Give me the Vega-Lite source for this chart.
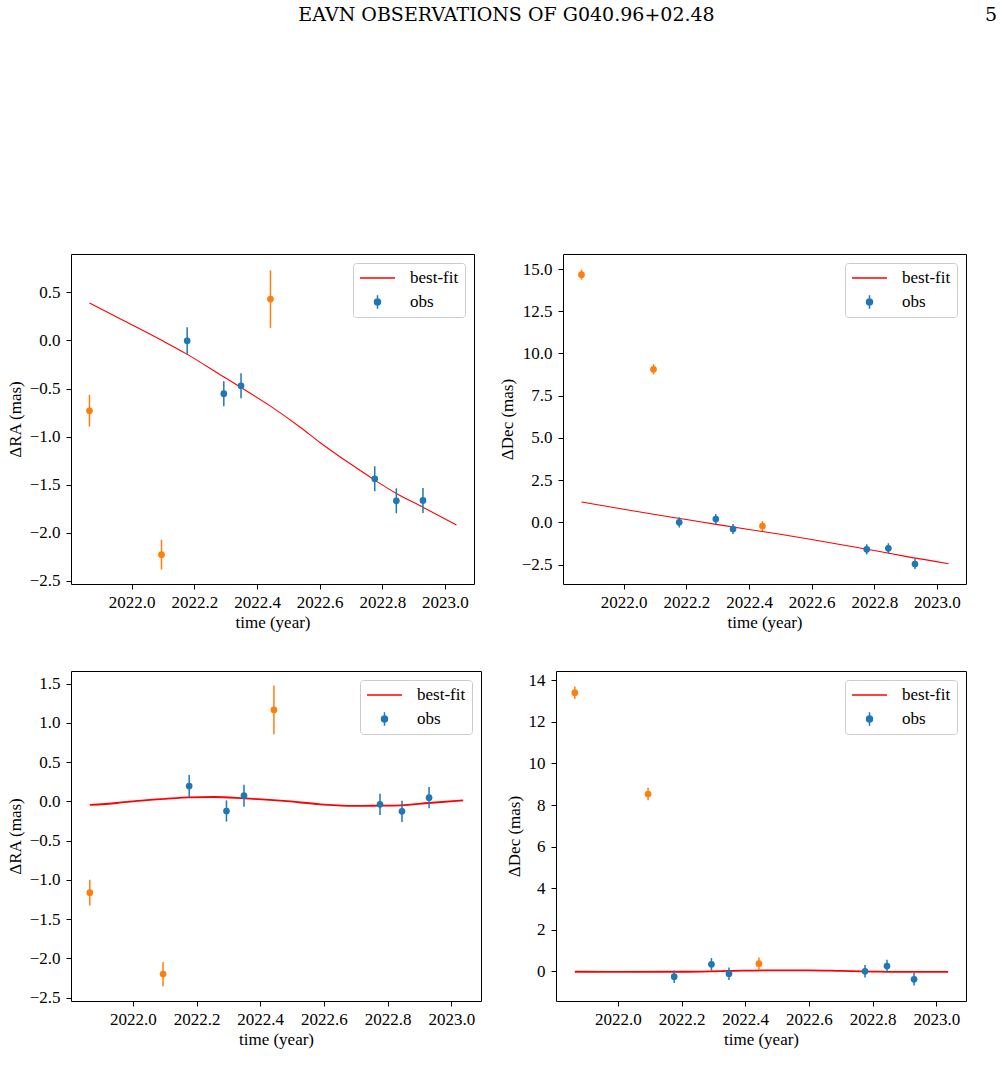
{
  "$schema": "https://vega.github.io/schema/vega-lite/v6.json",
  "background": "white",
  "padding": {"left": 5, "top": 5, "right": 5, "bottom": 5},
  "datasets": {
    "p1": [
      {"t": 2021.865, "v": -0.731, "e": 0.165, "grp": "out"},
      {"t": 2022.095, "v": -2.229, "e": 0.155, "grp": "out"},
      {"t": 2022.177, "v": -0.003, "e": 0.14, "grp": "obs"},
      {"t": 2022.294, "v": -0.554, "e": 0.13, "grp": "obs"},
      {"t": 2022.349, "v": -0.471, "e": 0.13, "grp": "obs"},
      {"t": 2022.443, "v": 0.431, "e": 0.30, "grp": "out"},
      {"t": 2022.776, "v": -1.439, "e": 0.13, "grp": "obs"},
      {"t": 2022.845, "v": -1.668, "e": 0.13, "grp": "obs"},
      {"t": 2022.930, "v": -1.664, "e": 0.13, "grp": "obs"},
      {"t": 2021.865, "v": 0.389, "grp": "best-fit"},
      {"t": 2022.0, "v": 0.164, "grp": "best-fit"},
      {"t": 2022.094, "v": 0.004, "grp": "best-fit"},
      {"t": 2022.176, "v": -0.142, "grp": "best-fit"},
      {"t": 2022.293, "v": -0.378, "grp": "best-fit"},
      {"t": 2022.349, "v": -0.489, "grp": "best-fit"},
      {"t": 2022.443, "v": -0.683, "grp": "best-fit"},
      {"t": 2022.539, "v": -0.905, "grp": "best-fit"},
      {"t": 2022.601, "v": -1.061, "grp": "best-fit"},
      {"t": 2022.699, "v": -1.286, "grp": "best-fit"},
      {"t": 2022.776, "v": -1.453, "grp": "best-fit"},
      {"t": 2022.845, "v": -1.592, "grp": "best-fit"},
      {"t": 2022.931, "v": -1.737, "grp": "best-fit"},
      {"t": 2023.037, "v": -1.921, "grp": "best-fit"}
    ],
    "p2": [
      {"t": 2021.865, "v": 14.665, "e": 0.3, "grp": "out"},
      {"t": 2022.095, "v": 9.062, "e": 0.3, "grp": "out"},
      {"t": 2022.177, "v": 0.007, "e": 0.3, "grp": "obs"},
      {"t": 2022.294, "v": 0.204, "e": 0.3, "grp": "obs"},
      {"t": 2022.349, "v": -0.388, "e": 0.3, "grp": "obs"},
      {"t": 2022.443, "v": -0.21, "e": 0.3, "grp": "out"},
      {"t": 2022.776, "v": -1.591, "e": 0.3, "grp": "obs"},
      {"t": 2022.845, "v": -1.532, "e": 0.3, "grp": "obs"},
      {"t": 2022.930, "v": -2.459, "e": 0.3, "grp": "obs"},
      {"t": 2021.865, "v": 1.21, "grp": "best-fit"},
      {"t": 2022.0, "v": 0.78, "grp": "best-fit"},
      {"t": 2022.1, "v": 0.47, "grp": "best-fit"},
      {"t": 2022.2, "v": 0.17, "grp": "best-fit"},
      {"t": 2022.3, "v": -0.13, "grp": "best-fit"},
      {"t": 2022.4, "v": -0.42, "grp": "best-fit"},
      {"t": 2022.5, "v": -0.70, "grp": "best-fit"},
      {"t": 2022.6, "v": -1.01, "grp": "best-fit"},
      {"t": 2022.7, "v": -1.33, "grp": "best-fit"},
      {"t": 2022.8, "v": -1.66, "grp": "best-fit"},
      {"t": 2022.9, "v": -2.01, "grp": "best-fit"},
      {"t": 2023.037, "v": -2.44, "grp": "best-fit"}
    ],
    "p3": [
      {"t": 2021.865, "v": -1.162, "e": 0.165, "grp": "out"},
      {"t": 2022.095, "v": -2.199, "e": 0.155, "grp": "out"},
      {"t": 2022.177, "v": 0.196, "e": 0.14, "grp": "obs"},
      {"t": 2022.294, "v": -0.122, "e": 0.135, "grp": "obs"},
      {"t": 2022.349, "v": 0.073, "e": 0.14, "grp": "obs"},
      {"t": 2022.443, "v": 1.165, "e": 0.31, "grp": "out"},
      {"t": 2022.776, "v": -0.037, "e": 0.135, "grp": "obs"},
      {"t": 2022.845, "v": -0.126, "e": 0.135, "grp": "obs"},
      {"t": 2022.930, "v": 0.048, "e": 0.135, "grp": "obs"},
      {"t": 2021.865, "v": -0.045, "grp": "best-fit"},
      {"t": 2021.95, "v": -0.02, "grp": "best-fit"},
      {"t": 2022.014, "v": 0.006, "grp": "best-fit"},
      {"t": 2022.1, "v": 0.032, "grp": "best-fit"},
      {"t": 2022.176, "v": 0.052, "grp": "best-fit"},
      {"t": 2022.255, "v": 0.056, "grp": "best-fit"},
      {"t": 2022.348, "v": 0.039, "grp": "best-fit"},
      {"t": 2022.474, "v": 0.006, "grp": "best-fit"},
      {"t": 2022.589, "v": -0.037, "grp": "best-fit"},
      {"t": 2022.693, "v": -0.058, "grp": "best-fit"},
      {"t": 2022.777, "v": -0.054, "grp": "best-fit"},
      {"t": 2022.84, "v": -0.05, "grp": "best-fit"},
      {"t": 2022.929, "v": -0.02, "grp": "best-fit"},
      {"t": 2023.037, "v": 0.014, "grp": "best-fit"}
    ],
    "p4": [
      {"t": 2021.865, "v": 13.407, "e": 0.3, "grp": "out"},
      {"t": 2022.095, "v": 8.532, "e": 0.3, "grp": "out"},
      {"t": 2022.177, "v": -0.256, "e": 0.3, "grp": "obs"},
      {"t": 2022.294, "v": 0.337, "e": 0.3, "grp": "obs"},
      {"t": 2022.349, "v": -0.112, "e": 0.3, "grp": "obs"},
      {"t": 2022.443, "v": 0.37, "e": 0.3, "grp": "out"},
      {"t": 2022.776, "v": 0.0, "e": 0.3, "grp": "obs"},
      {"t": 2022.845, "v": 0.257, "e": 0.3, "grp": "obs"},
      {"t": 2022.930, "v": -0.384, "e": 0.3, "grp": "obs"},
      {"t": 2021.865, "v": -0.02, "grp": "best-fit"},
      {"t": 2022.0, "v": -0.03, "grp": "best-fit"},
      {"t": 2022.2, "v": -0.02, "grp": "best-fit"},
      {"t": 2022.35, "v": 0.02, "grp": "best-fit"},
      {"t": 2022.5, "v": 0.05, "grp": "best-fit"},
      {"t": 2022.6, "v": 0.05, "grp": "best-fit"},
      {"t": 2022.7, "v": 0.02, "grp": "best-fit"},
      {"t": 2022.8, "v": -0.01, "grp": "best-fit"},
      {"t": 2022.9, "v": -0.03, "grp": "best-fit"},
      {"t": 2023.037, "v": -0.03, "grp": "best-fit"}
    ]
  },
  "vconcat": [
    {
      "hconcat": [
        {
          "width": 403, "height": 330,
          "title": {"text": "EAVN OBSERVATIONS OF G040.96+02.48", "anchor": "middle", "dx": 234, "offset": 214, "baseline": "alphabetic", "font": "DejaVu Serif", "fontSize": 19, "fontWeight": "normal", "color": "black"},
          "data": {"name": "p1"},
          "encoding": {
            "x": {"field": "t", "type": "quantitative", "scale": {"domain": [2021.806, 2023.093], "nice": false, "zero": false}, "axis": {"values": [2022.0, 2022.2, 2022.4, 2022.6, 2022.8, 2023.0], "format": ".1f", "title": "time (year)"}},
            "y": {"field": "v", "type": "quantitative", "scale": {"domain": [-2.534, 0.9], "nice": false, "zero": false}, "axis": {"values": [-2.5, -2.0, -1.5, -1.0, -0.5, 0.0, 0.5], "format": ".1f", "title": "ΔRA (mas)"}}
          },
          "layer": [
            {"transform": [{"filter": "datum.grp === 'best-fit'"}], "mark": {"type": "line", "interpolate": "monotone", "strokeWidth": 1.1},
             "encoding": {"color": {"field": "grp", "type": "nominal", "scale": {"domain": ["best-fit", "obs"], "range": ["red", "#1f77b4"]},
               "legend": {"title": null, "symbolOffset": 0, "labelOffset": 14, "encode": {"symbols": {"update": {
                 "shape": {"signal": "datum.value === 'best-fit' ? 'M-1,0L1,0' : 'M-0.17,0A0.17,0.17,0,1,0,0.17,0A0.17,0.17,0,1,0,-0.17,0ZM0,-0.38L0,0.38'"},
                 "size": {"value": 1225},
                 "fill": {"signal": "datum.value === 'best-fit' ? 'transparent' : '#1f77b4'"},
                 "stroke": {"signal": "datum.value === 'best-fit' ? 'red' : '#1f77b4'"},
                 "strokeWidth": {"value": 1.5},
                 "opacity": {"value": 1}}}}}}}},
            {"transform": [{"filter": "datum.grp === 'obs'"}], "mark": {"type": "errorbar", "color": "#1f77b4", "thickness": 1.5}, "encoding": {"yError": {"field": "e"}}},
            {"transform": [{"filter": "datum.grp === 'out'"}], "mark": {"type": "errorbar", "color": "#ff7f0e", "thickness": 1.5}, "encoding": {"yError": {"field": "e"}}},
            {"transform": [{"filter": "datum.grp === 'obs'"}], "mark": {"type": "circle", "size": 45, "opacity": 1}, "encoding": {"color": {"field": "grp", "type": "nominal"}}},
            {"transform": [{"filter": "datum.grp === 'out'"}], "mark": {"type": "circle", "size": 45, "opacity": 1, "color": "#ff7f0e"}}
          ]
        },
        {
          "width": 403, "height": 330,
          "title": {"text": "5", "anchor": "end", "dx": 31, "offset": 214, "baseline": "alphabetic", "font": "DejaVu Serif", "fontSize": 19, "fontWeight": "normal", "color": "black"},
          "data": {"name": "p2"},
          "encoding": {
            "x": {"field": "t", "type": "quantitative", "scale": {"domain": [2021.806, 2023.093], "nice": false, "zero": false}, "axis": {"values": [2022.0, 2022.2, 2022.4, 2022.6, 2022.8, 2023.0], "format": ".1f", "title": "time (year)"}},
            "y": {"field": "v", "type": "quantitative", "scale": {"domain": [-3.643, 15.888], "nice": false, "zero": false}, "axis": {"values": [-2.5, 0.0, 2.5, 5.0, 7.5, 10.0, 12.5, 15.0], "format": ".1f", "title": "ΔDec (mas)"}}
          },
          "layer": [
            {"transform": [{"filter": "datum.grp === 'best-fit'"}], "mark": {"type": "line", "interpolate": "monotone", "strokeWidth": 1.1},
             "encoding": {"color": {"field": "grp", "type": "nominal", "scale": {"domain": ["best-fit", "obs"], "range": ["red", "#1f77b4"]},
               "legend": {"title": null, "symbolOffset": 0, "labelOffset": 14, "encode": {"symbols": {"update": {
                 "shape": {"signal": "datum.value === 'best-fit' ? 'M-1,0L1,0' : 'M-0.17,0A0.17,0.17,0,1,0,0.17,0A0.17,0.17,0,1,0,-0.17,0ZM0,-0.38L0,0.38'"},
                 "size": {"value": 1225},
                 "fill": {"signal": "datum.value === 'best-fit' ? 'transparent' : '#1f77b4'"},
                 "stroke": {"signal": "datum.value === 'best-fit' ? 'red' : '#1f77b4'"},
                 "strokeWidth": {"value": 1.5},
                 "opacity": {"value": 1}}}}}}}},
            {"transform": [{"filter": "datum.grp === 'obs'"}], "mark": {"type": "errorbar", "color": "#1f77b4", "thickness": 1.5}, "encoding": {"yError": {"field": "e"}}},
            {"transform": [{"filter": "datum.grp === 'out'"}], "mark": {"type": "errorbar", "color": "#ff7f0e", "thickness": 1.5}, "encoding": {"yError": {"field": "e"}}},
            {"transform": [{"filter": "datum.grp === 'obs'"}], "mark": {"type": "circle", "size": 45, "opacity": 1}, "encoding": {"color": {"field": "grp", "type": "nominal"}}},
            {"transform": [{"filter": "datum.grp === 'out'"}], "mark": {"type": "circle", "size": 45, "opacity": 1, "color": "#ff7f0e"}}
          ]
        }
      ],
      "spacing": 89,
      "bounds": "flush",
      "resolve": {"scale": {"color": "independent"}, "legend": {"color": "independent"}}
    },
    {
      "hconcat": [
        {
          "width": 410, "height": 330,
          "data": {"name": "p3"},
          "encoding": {
            "x": {"field": "t", "type": "quantitative", "scale": {"domain": [2021.806, 2023.093], "nice": false, "zero": false}, "axis": {"values": [2022.0, 2022.2, 2022.4, 2022.6, 2022.8, 2023.0], "format": ".1f", "title": "time (year)"}},
            "y": {"field": "v", "type": "quantitative", "scale": {"domain": [-2.542, 1.661], "nice": false, "zero": false}, "axis": {"values": [-2.5, -2.0, -1.5, -1.0, -0.5, 0.0, 0.5, 1.0, 1.5], "format": ".1f", "title": "ΔRA (mas)"}}
          },
          "layer": [
            {"transform": [{"filter": "datum.grp === 'best-fit'"}], "mark": {"type": "line", "interpolate": "monotone", "strokeWidth": 1.8},
             "encoding": {"color": {"field": "grp", "type": "nominal", "scale": {"domain": ["best-fit", "obs"], "range": ["red", "#1f77b4"]},
               "legend": {"title": null, "symbolOffset": 0, "labelOffset": 14, "encode": {"symbols": {"update": {
                 "shape": {"signal": "datum.value === 'best-fit' ? 'M-1,0L1,0' : 'M-0.17,0A0.17,0.17,0,1,0,0.17,0A0.17,0.17,0,1,0,-0.17,0ZM0,-0.38L0,0.38'"},
                 "size": {"value": 1225},
                 "fill": {"signal": "datum.value === 'best-fit' ? 'transparent' : '#1f77b4'"},
                 "stroke": {"signal": "datum.value === 'best-fit' ? '#ff4d4d' : '#1f77b4'"},
                 "strokeWidth": {"value": 1.5},
                 "opacity": {"value": 1}}}}}}}},
            {"transform": [{"filter": "datum.grp === 'obs'"}], "mark": {"type": "errorbar", "color": "#1f77b4", "thickness": 1.5}, "encoding": {"yError": {"field": "e"}}},
            {"transform": [{"filter": "datum.grp === 'out'"}], "mark": {"type": "errorbar", "color": "#ff7f0e", "thickness": 1.5}, "encoding": {"yError": {"field": "e"}}},
            {"transform": [{"filter": "datum.grp === 'obs'"}], "mark": {"type": "circle", "size": 45, "opacity": 1}, "encoding": {"color": {"field": "grp", "type": "nominal"}}},
            {"transform": [{"filter": "datum.grp === 'out'"}], "mark": {"type": "circle", "size": 45, "opacity": 1, "color": "#ff7f0e"}}
          ]
        },
        {
          "width": 410, "height": 330,
          "data": {"name": "p4"},
          "encoding": {
            "x": {"field": "t", "type": "quantitative", "scale": {"domain": [2021.806, 2023.093], "nice": false, "zero": false}, "axis": {"values": [2022.0, 2022.2, 2022.4, 2022.6, 2022.8, 2023.0], "format": ".1f", "title": "time (year)"}},
            "y": {"field": "v", "type": "quantitative", "scale": {"domain": [-1.427, 14.449], "nice": false, "zero": false}, "axis": {"values": [0, 2, 4, 6, 8, 10, 12, 14], "format": "d", "title": "ΔDec (mas)"}}
          },
          "layer": [
            {"transform": [{"filter": "datum.grp === 'best-fit'"}], "mark": {"type": "line", "interpolate": "monotone", "strokeWidth": 1.8},
             "encoding": {"color": {"field": "grp", "type": "nominal", "scale": {"domain": ["best-fit", "obs"], "range": ["red", "#1f77b4"]},
               "legend": {"title": null, "symbolOffset": 0, "labelOffset": 14, "encode": {"symbols": {"update": {
                 "shape": {"signal": "datum.value === 'best-fit' ? 'M-1,0L1,0' : 'M-0.17,0A0.17,0.17,0,1,0,0.17,0A0.17,0.17,0,1,0,-0.17,0ZM0,-0.38L0,0.38'"},
                 "size": {"value": 1225},
                 "fill": {"signal": "datum.value === 'best-fit' ? 'transparent' : '#1f77b4'"},
                 "stroke": {"signal": "datum.value === 'best-fit' ? '#ff4d4d' : '#1f77b4'"},
                 "strokeWidth": {"value": 1.5},
                 "opacity": {"value": 1}}}}}}}},
            {"transform": [{"filter": "datum.grp === 'obs'"}], "mark": {"type": "errorbar", "color": "#1f77b4", "thickness": 1.5}, "encoding": {"yError": {"field": "e"}}},
            {"transform": [{"filter": "datum.grp === 'out'"}], "mark": {"type": "errorbar", "color": "#ff7f0e", "thickness": 1.5}, "encoding": {"yError": {"field": "e"}}},
            {"transform": [{"filter": "datum.grp === 'obs'"}], "mark": {"type": "circle", "size": 45, "opacity": 1}, "encoding": {"color": {"field": "grp", "type": "nominal"}}},
            {"transform": [{"filter": "datum.grp === 'out'"}], "mark": {"type": "circle", "size": 45, "opacity": 1, "color": "#ff7f0e"}}
          ]
        }
      ],
      "spacing": 75,
      "bounds": "flush",
      "resolve": {"scale": {"color": "independent"}, "legend": {"color": "independent"}}
    }
  ],
  "spacing": 39,
  "resolve": {"scale": {"color": "independent"}, "legend": {"color": "independent"}},
  "config": {
    "font": "Liberation Serif",
    "view": {"stroke": "black", "strokeWidth": 1},
    "axis": {"domain": false, "grid": false, "ticks": true, "tickColor": "black", "tickSize": 5, "tickWidth": 1,
      "labelFont": "Liberation Serif", "labelFontSize": 17, "labelColor": "black", "labelFlush": false, "labelOverlap": false, "labelBound": false,
      "titleFont": "Liberation Serif", "titleFontSize": 17, "titleFontWeight": "normal", "titleColor": "black"},
    "axisX": {"labelPadding": 5, "titlePadding": 4},
    "axisY": {"labelPadding": 6, "titlePadding": 5},
    "legend": {"orient": "top-right", "offset": 9, "padding": 6, "strokeColor": "#cccccc", "cornerRadius": 3, "fillColor": "white",
      "labelFont": "Liberation Serif", "labelFontSize": 17, "labelColor": "black", "clipHeight": 18, "rowPadding": 6, "labelOffset": 14}
  }
}
